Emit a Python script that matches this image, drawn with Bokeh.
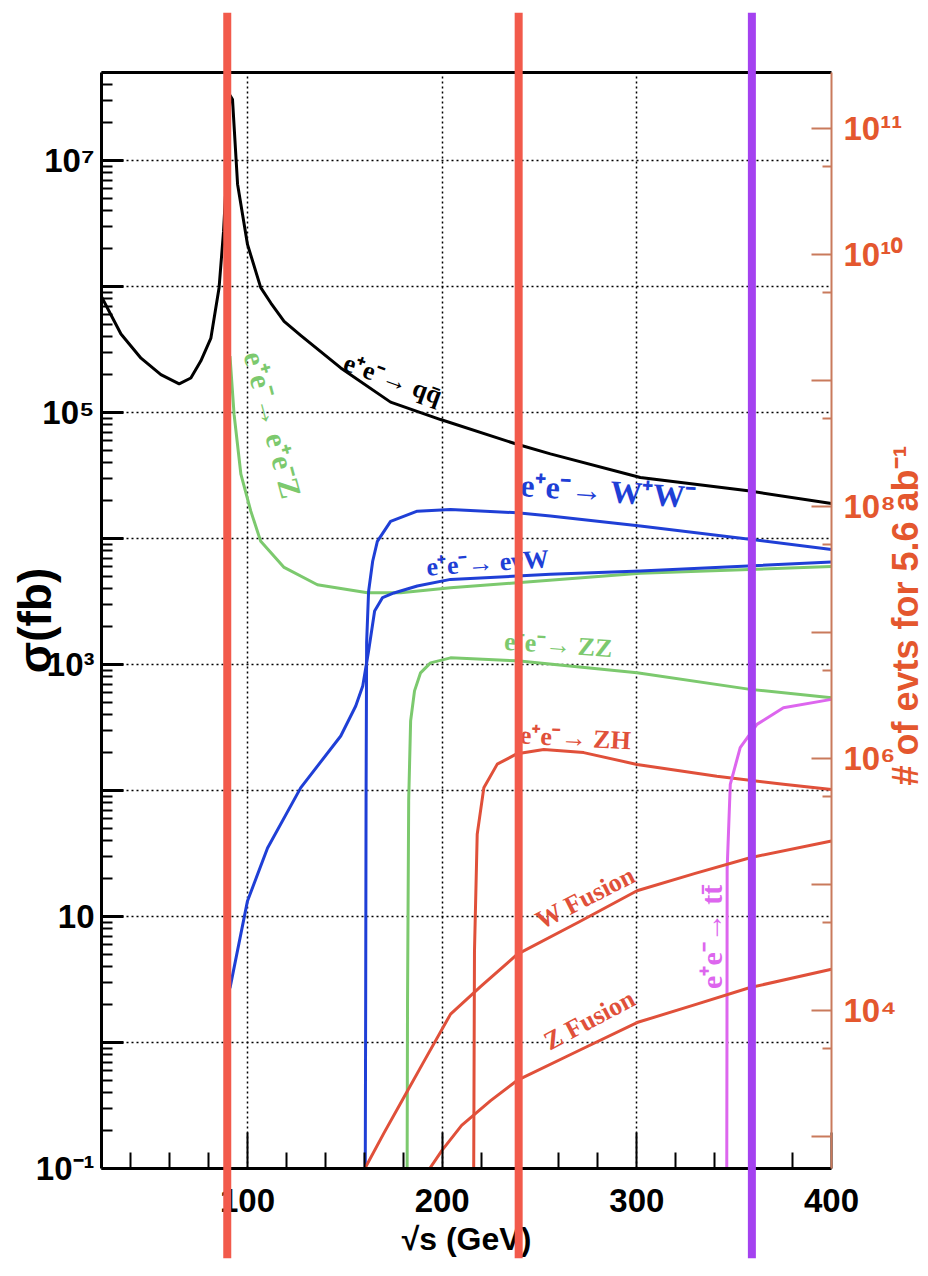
import math
from bokeh.plotting import figure
from bokeh.layouts import column
from bokeh.models import (Range1d, LogAxis, LinearAxis, FixedTicker, CustomJSTickFormatter,
                          ColumnDataSource, LogScale)
from bokeh.core.properties import value
from bokeh.embed import file_html
from bokeh.resources import INLINE

# ---------------- data: sqrt(s) in GeV, cross section in fb ----------------
qq_x = [25.0, 35.0, 45.3, 55.5, 64.9, 70.9, 76.0, 81.2, 85.4, 87.7, 89.5, 91.0, 92.3, 94.9,
        100.0, 106.8, 112.0, 118.8, 127.3, 147.9, 173.5, 199.2, 238.5, 255.6, 301.8, 358.2, 400.0]
qq_y = [8.3e5, 4.2e5, 2.7e5, 2.0e5, 1.69e5, 1.88e5, 2.56e5, 3.9e5, 9.8e5, 2.75e6, 9.0e6, 3.3e7,
        3.05e7, 6.5e6, 2.16e6, 9.8e5, 7.4e5, 5.3e5, 4.1e5, 2.26e5, 1.21e5, 8.8e4, 5.6e4, 4.7e4,
        3.05e4, 2.38e4, 1.9e4]

eeZ_x = [91.0, 93.1, 96.6, 101.7, 106.8, 118.8, 135.9, 161.6, 178.7, 204.3, 238.5, 301.8, 400.0]
eeZ_y = [2.8e5, 9.7e4, 3.24e4, 1.65e4, 9.5e3, 5.9e3, 4.3e3, 3.72e3, 3.72e3, 4.07e3, 4.46e3, 5.3e3, 6.0e3]

ww_x = [160.5, 160.7, 160.9, 161.2, 162.2, 164.3, 166.7, 173.5, 187.2, 204.3, 238.5, 255.6, 301.8, 400.0]
ww_y = [0.1, 2.0, 80.0, 1.5e3, 3.8e3, 6.6e3, 9.5e3, 1.37e4, 1.65e4, 1.70e4, 1.60e4, 1.51e4, 1.26e4, 8.2e3]

enw_x = [91.0, 100.0, 110.3, 127.3, 147.9, 155.6, 159.2, 162.2, 165.3, 169.4, 175.2, 187.2, 204.3,
         238.5, 255.6, 301.8, 400.0]
enw_y = [2.7, 13.3, 35.0, 105.0, 271.0, 469.0, 675.0, 1.28e3, 2.66e3, 3.4e3, 3.7e3, 4.2e3, 4.74e3,
         5.04e3, 5.2e3, 5.52e3, 6.5e3]

zz_x = [182.0, 182.2, 182.8, 183.8, 185.8, 188.9, 194.0, 204.3, 238.5, 300.1, 358.2, 400.0]
zz_y = [0.1, 2.1, 83.0, 357.0, 618.0, 859.0, 1.03e3, 1.13e3, 1.07e3, 861.0, 635.0, 546.0]

zh_x = [216.2, 216.6, 218.0, 221.4, 228.3, 238.5, 252.2, 272.7, 300.1, 341.1, 375.3, 400.0]
zh_y = [0.1, 5.3, 45.0, 105.0, 162.0, 196.0, 212.0, 200.0, 161.0, 130.0, 112.0, 102.0]

tt_x = [346.2, 346.3, 346.4, 348.0, 353.1, 361.7, 375.3, 400.0]
tt_y = [0.1, 1.0, 24.0, 112.0, 219.0, 335.0, 454.0, 529.0]

wfus_x = [160.3, 170.0, 180.0, 190.0, 204.3, 220.0, 238.5, 270.0, 300.1, 330.0, 358.2, 400.0]
wfus_y = [0.1, 0.19, 0.36, 0.68, 1.68, 2.8, 5.0, 9.0, 16.0, 22.0, 29.3, 39.8]

zfus_x = [193.6, 200.0, 210.0, 224.9, 238.5, 270.0, 300.1, 330.0, 358.2, 400.0]
zfus_y = [0.1, 0.14, 0.22, 0.346, 0.5, 0.86, 1.44, 2.0, 2.73, 3.82]

# vertical markers (sqrt(s) in GeV)
vline_x = [89.6, 239.3, 359.1]

# luminosity 5.6 ab^-1 = 5600 fb^-1 (right axis = sigma * L)
lumi_fb = 5600.0

# axis ticks and labels
x_ticks = [100, 200, 300, 400]
x_minor = [40, 60, 80, 120, 140, 160, 180, 220, 240, 260, 280, 320, 340, 360, 380]
sig_ticks = [0.1, 1.0, 10.0, 100.0, 1e3, 1e4, 1e5, 1e6, 1e7]
sig_labels = ["10⁻¹", "", "10", "", "10³", "", "10⁵", "", "10⁷"]
sig_minor = [k * 10.0 ** e for e in range(-1, 8) for k in range(2, 10)]
evt_ticks = [1e3, 1e4, 1e5, 1e6, 1e7, 1e8, 1e9, 1e10, 1e11]
evt_labels = ["", "10⁴", "", "10⁶", "", "10⁸", "", "10¹⁰", "10¹¹"]
evt_minor = [5.0 * 10.0 ** e for e in range(3, 11)]
evt_title = "# of evts for 5.6 ab⁻¹"

# curve labels
lab_text = ["e⁺e⁻→ qq̄", "e⁺e⁻→ e⁺e⁻Z", "e⁺e⁻→ W⁺W⁻", "e⁺e⁻→ eνW", "e⁺e⁻→ ZZ",
            "e⁺e⁻→ ZH", "W Fusion", "Z Fusion", "e⁺e⁻→ tt̄"]
lab_x = [174.6, 113.0, 285.5, 223.3, 259.7, 268.4, 273.6, 275.6, 338.6]
lab_y = [1.84e5, 8.0e4, 2.38e4, 6.4e3, 1.43e3, 261.0, 14.1, 1.51, 6.9]
lab_angle = [-20, -75, -4, 4, -4, -3, 27, 28, 90]
lab_size = ["26px", "30px", "32px", "26px", "26px", "26px", "26px", "26px", "30px"]

BLACK = "#000000"
BLUE = "#1f3fd6"
GREEN = "#7cc96e"
RED = "#e0503a"
MAGENTA = "#dd66ee"
lab_color = [BLACK, GREEN, BLUE, BLUE, GREEN, RED, RED, RED, MAGENTA]
vline_color = ["#f25a4b", "#f25a4b", "#a442f0"]
AXRED = "#c97a5c"
TXTRED = "#e4572e"

TICK_FONT = "Liberation Sans"
W, H = 951, 1276
BL, BR, BT, BB = 101, 120, 72, 108


def fmt(vals, labs):
    return CustomJSTickFormatter(args=dict(vals=vals, labs=labs), code="""
const e = Math.log10(tick);
for (let i = 0; i < vals.length; i++) {
  if (Math.abs(Math.log10(vals[i]) - e) < 1e-6) { return labs[i]; }
}
return "";
""")


xr = Range1d(25, 400)
p = figure(width=W, height=H, x_range=xr, y_range=Range1d(0.1, 5e7),
           y_axis_type="log", output_backend="svg", toolbar_location=None,
           min_border_left=BL, min_border_right=BR, min_border_top=BT, min_border_bottom=BB)
p.outline_line_color = None
p.background_fill_color = "white"
p.border_fill_color = "white"
p.extra_y_ranges = {"evts": Range1d(0.1 * lumi_fb, 5e7 * lumi_fb)}
p.extra_y_scales = {"evts": LogScale()}

# grids
p.xgrid.ticker = FixedTicker(ticks=[100, 200, 300])
p.ygrid.ticker = FixedTicker(ticks=sig_ticks)
for g in (p.xgrid[0], p.ygrid[0]):
    g.grid_line_color = "black"
    g.grid_line_dash = "2 3"
    g.grid_line_width = 1.5

# left axis
ya = p.yaxis[0]
ya.ticker = FixedTicker(ticks=sig_ticks, minor_ticks=sig_minor)
ya.formatter = fmt(sig_ticks, sig_labels)
ya.major_tick_in = 22
ya.major_tick_out = 0
ya.minor_tick_in = 11
ya.minor_tick_out = 0
ya.axis_line_width = 3
ya.major_tick_line_width = 3
ya.minor_tick_line_width = 2
ya.major_label_text_color = "black"
ya.major_label_text_font = TICK_FONT
ya.major_label_text_font_style = "bold"
ya.major_label_text_font_size = "33px"
ya.major_label_standoff = 7
ya.axis_label = "σ(fb)"
ya.axis_label_text_color = "black"
ya.axis_label_text_font = TICK_FONT
ya.axis_label_text_font_style = "bold"
ya.axis_label_text_font_size = "46px"
ya.axis_label_standoff = -28

# bottom axis
xa = p.xaxis[0]
xa.ticker = FixedTicker(ticks=x_ticks, minor_ticks=x_minor)
xa.major_tick_in = 36
xa.major_tick_out = 0
xa.minor_tick_in = 16
xa.minor_tick_out = 0
xa.axis_line_width = 3
xa.major_tick_line_width = 2
xa.minor_tick_line_width = 2
xa.major_label_text_color = "black"
xa.major_label_text_font = TICK_FONT
xa.major_label_text_font_style = "bold"
xa.major_label_text_font_size = "33px"
xa.major_label_standoff = 20
xa.axis_label = "√s (GeV)"
xa.axis_label_text_color = "black"
xa.axis_label_text_font = TICK_FONT
xa.axis_label_text_font_style = "bold"
xa.axis_label_text_font_size = "32px"
xa.axis_label_standoff = 6

# top frame line
p.add_layout(LinearAxis(ticker=FixedTicker(ticks=[]), axis_line_width=3, axis_line_color="black",
                        major_tick_in=0, major_tick_out=0, minor_tick_in=0, minor_tick_out=0,
                        major_label_text_font_size="0px"), "above")

# right axis: number of events for 5.6 ab^-1
ra = LogAxis(y_range_name="evts", ticker=FixedTicker(ticks=evt_ticks, minor_ticks=evt_minor),
             formatter=fmt(evt_ticks, evt_labels),
             major_tick_in=20, major_tick_out=0, minor_tick_in=9, minor_tick_out=0,
             axis_line_color=AXRED, axis_line_width=2,
             major_tick_line_color=AXRED, major_tick_line_width=2,
             minor_tick_line_color=AXRED, minor_tick_line_width=2,
             major_label_text_color=TXTRED, major_label_text_font=TICK_FONT,
             major_label_text_font_style="bold", major_label_text_font_size="33px",
             major_label_standoff=12)
p.add_layout(ra, "right")

# curves
series = [(qq_x, qq_y, BLACK), (eeZ_x, eeZ_y, GREEN), (ww_x, ww_y, BLUE), (enw_x, enw_y, BLUE),
          (zz_x, zz_y, GREEN), (zh_x, zh_y, RED), (tt_x, tt_y, MAGENTA),
          (wfus_x, wfus_y, RED), (zfus_x, zfus_y, RED)]
for xs, ys, c in series:
    p.line(xs, ys, line_color=c, line_width=3, line_join="round")

# curve labels
src = ColumnDataSource(dict(x=lab_x, y=lab_y, text=lab_text, color=lab_color, size=lab_size,
                            angle=[math.radians(a) for a in lab_angle]))
p.text(x="x", y="y", text="text", angle="angle", text_color="color", source=src,
       text_font=value("Liberation Serif"), text_font_style="bold", text_font_size="size",
       text_align="center", text_baseline="middle")

# overlay figure: vertical markers that run past the plot frame
ov = figure(width=W, height=H, x_range=xr, y_range=Range1d(0, 1), output_backend="svg",
            toolbar_location=None, x_axis_location=None, y_axis_location=None,
            min_border_left=BL, min_border_right=BR, min_border_top=12, min_border_bottom=18)
ov.outline_line_color = None
ov.background_fill_alpha = 0
ov.border_fill_alpha = 0
for g in ov.grid:
    g.visible = False
ov.segment(x0=vline_x, y0=[0] * len(vline_x), x1=vline_x, y1=[1] * len(vline_x),
           line_color=vline_color, line_width=8)
ov.margin = (-H, 0, 0, 0)

# overlay figure 2: right-hand axis title, read from bottom to top
ov2 = figure(width=W, height=H, x_range=Range1d(0, 1), y_range=Range1d(0, 1),
             output_backend="svg", toolbar_location=None, x_axis_location=None,
             y_axis_location=None, min_border_left=BL, min_border_right=BR,
             min_border_top=685, min_border_bottom=391)
ov2.outline_line_color = None
ov2.background_fill_alpha = 0
ov2.border_fill_alpha = 0
for g in ov2.grid:
    g.visible = False
t_ax = LinearAxis(ticker=FixedTicker(ticks=[]), major_tick_in=0, major_tick_out=0,
                  minor_tick_in=0, minor_tick_out=0, axis_line_color=None,
                  major_label_text_font_size="0px",
                  axis_label=evt_title, axis_label_text_color=TXTRED,
                  axis_label_text_font=TICK_FONT, axis_label_text_font_style="bold",
                  axis_label_text_font_size="36px", axis_label_standoff=74)
if "axis_label_orientation" in t_ax.properties():
    t_ax.axis_label_orientation = math.pi / 2
ov2.add_layout(t_ax, "right")
ov2.margin = (-H, 0, 0, 0)

root = column(p, ov, ov2)
open("out.html", "w").write(file_html(root, INLINE))
